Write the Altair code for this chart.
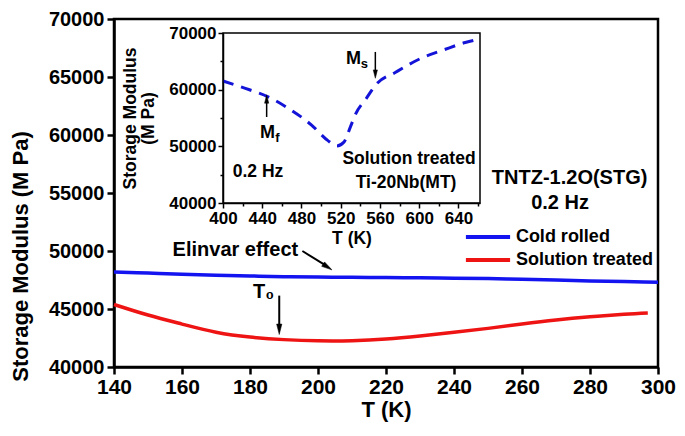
import altair as alt
import pandas as pd

FONT = "Liberation Sans"

# ---- main panel data ----
cold_T = [140, 150, 160, 170, 180, 190, 200, 210, 220, 230, 240, 250, 260, 270, 280, 290, 300]
cold_rolled = [48200, 48100, 48000, 47920, 47850, 47790, 47750, 47730, 47710, 47690, 47660,
               47620, 47560, 47500, 47420, 47360, 47300]
sol_T = [140, 150, 160, 170, 180, 190, 200, 210, 220, 230, 240, 250, 260, 270, 280, 290, 297]
sol_treated = [45390, 44480, 43700, 43000, 42580, 42360, 42260, 42270, 42410, 42680, 43000,
               43330, 43700, 44050, 44330, 44550, 44660]
series_names = ["Cold rolled", "Solution treated"]
series_colors = ["#1414f0", "#ee1414"]

# ---- inset data (Ti-20Nb, solution treated) ----
inset_T = [400, 427, 446, 465, 490, 507, 516, 523, 530, 535, 546, 556, 576, 602, 626, 647, 662]
inset_E = [61525, 59980, 58740, 56885, 53790, 51010, 50080, 50700, 53480, 55650, 58430,
           60910, 63070, 65545, 67090, 68330, 68950]

main_df = pd.DataFrame({
    "T": cold_T + sol_T,
    "E": cold_rolled + sol_treated,
    "series": [series_names[0]] * len(cold_T) + [series_names[1]] * len(sol_T),
})
inset_df = pd.DataFrame({"T": inset_T, "E": inset_E})

ARROW = "M0,-1L0.5,1L-0.5,1Z"   # narrow arrow head pointing up

# ---- main scales / axes ----
xs = alt.Scale(domain=[140, 300], nice=False, zero=False)
ys = alt.Scale(domain=[40000, 70000], nice=False, zero=False)

x_axis = alt.Axis(
    title="T (K)", values=list(range(140, 301, 10)), format="d",
    labelExpr="datum.value % 20 === 0 ? datum.label : ''",
    tickSize={"condition": {"test": "datum.value % 20 === 0", "value": 7}, "value": 4},
    labelFlush=False, labelOverlap=False, labelFont=FONT, labelFontSize=21,
    labelFontWeight="bold", labelColor="black", labelPadding=2,
    titleFont=FONT, titleFontSize=22, titleFontWeight="bold", titleColor="black",
    titlePadding=2, domainColor="black", domainWidth=2.5, tickColor="black",
    tickWidth=2.5, grid=False, orient="bottom",
)
y_axis = alt.Axis(
    title="Storage Modulus (M Pa)", values=list(range(40000, 70001, 2500)), format="d",
    labelExpr="datum.value % 5000 === 0 ? datum.label : ''",
    tickSize={"condition": {"test": "datum.value % 5000 === 0", "value": 7}, "value": 4},
    labelFlush=False, labelOverlap=False, labelFont=FONT, labelFontSize=20,
    labelFontWeight="bold", labelColor="black", labelPadding=3,
    titleFont=FONT, titleFontSize=22, titleFontWeight="bold", titleColor="black",
    titleX=-94, titleY=237, titleAlign="center", titleBaseline="middle", titleAngle=-90,
    domainColor="black", domainWidth=2.5, tickColor="black", tickWidth=2.5,
    grid=False, orient="left",
)

lines = alt.Chart(main_df).mark_line(strokeWidth=3.5, interpolate="natural").encode(
    x=alt.X("T:Q", scale=xs, axis=x_axis),
    y=alt.Y("E:Q", scale=ys, axis=y_axis),
    color=alt.Color("series:N", scale=alt.Scale(domain=series_names, range=series_colors),
                    legend=None),
)


def txt(s, t, e, size=18, align="center", dy=0):
    return alt.Chart().mark_text(
        text=s, font=FONT, fontSize=size, fontWeight="bold", color="black",
        align=align, baseline="middle", dy=dy,
    ).encode(x=alt.datum(t), y=alt.datum(e))


def rule(t1, t2, e1, e2, w=2, color="black"):
    return alt.Chart().mark_rule(color=color, strokeWidth=w).encode(
        x=alt.datum(t1), x2=alt.datum(t2), y=alt.datum(e1), y2=alt.datum(e2))


def head(t, e, angle, size=110):
    return alt.Chart().mark_point(
        shape=ARROW, filled=True, fill="black", stroke="black", strokeWidth=0.5,
        size=size, angle=angle, opacity=1, fillOpacity=1,
    ).encode(x=alt.datum(t), y=alt.datum(e))


main_layer = alt.layer(
    lines,
    txt("TNTZ-1.2O(STG)", 274.0, 56325, size=20),
    txt("0.2 Hz", 271.2, 54103, size=20),
    # legend
    rule(243.5, 256.5, 51197, 51197, w=4, color=series_colors[0]),
    rule(243.5, 256.5, 49231, 49231, w=4, color=series_colors[1]),
    txt(series_names[0], 258.2, 51197, size=18, align="left"),
    txt(series_names[1], 258.2, 49231, size=18, align="left"),
    # annotations
    txt("Elinvar effect", 175.7, 50085, size=20),
    rule(195.4, 202.0, 50000, 48800),
    head(202.8, 48620, 123),
    txt("T₀", 184.0, 46500, size=20),
    rule(188.6, 188.6, 46154, 43500),
    head(188.6, 43250, 180),
)

# ---- inset ----
ixs = alt.Scale(domain=[400, 662], range=[109, 366], nice=False, zero=False)
iys = alt.Scale(domain=[40000, 70000], range=[184, 14], nice=False, zero=False)

ix_axis = alt.Axis(
    title="T (K)", orient="bottom", offset=-164, values=list(range(400, 661, 20)), format="d",
    labelExpr="(datum.value - 400) % 40 === 0 ? datum.label : ''",
    tickSize={"condition": {"test": "(datum.value - 400) % 40 === 0", "value": 5}, "value": 3},
    labelFlush=False, labelOverlap=False, labelFont=FONT, labelFontSize=17,
    labelFontWeight="bold", labelColor="black", labelPadding=2,
    titleFont=FONT, titleFontSize=17.5, titleFontWeight="bold", titleColor="black",
    titlePadding=3, domainColor="black", domainWidth=1.5, tickColor="black",
    tickWidth=1.5, grid=False,
)
iy_axis = alt.Axis(
    title=["Storage Modulus", "(M Pa)"], orient="left", offset=-109,
    values=list(range(40000, 70001, 5000)), format="d",
    labelExpr="datum.value % 10000 === 0 ? datum.label : ''",
    tickSize={"condition": {"test": "datum.value % 10000 === 0", "value": 5}, "value": 3},
    labelFlush=False, labelOverlap=False, labelFont=FONT, labelFontSize=17,
    labelFontWeight="bold", labelColor="black", labelPadding=2,
    titleFont=FONT, titleFontSize=17.5, titleFontWeight="bold", titleColor="black",
    titlePadding=11, titleLineHeight=18, domainColor="black", domainWidth=1.5,
    tickColor="black", tickWidth=1.5, grid=False,
)

inset_line = alt.Chart(inset_df).mark_line(
    strokeWidth=3, strokeDash=[11, 8], color="#1414d8", interpolate="monotone",
).encode(
    x=alt.X("T:Q", scale=ixs, axis=ix_axis),
    y=alt.Y("E:Q", scale=iys, axis=iy_axis),
)

inset_frame = alt.Chart().mark_rect(
    fillOpacity=0, stroke="black", strokeWidth=1.5,
).encode(x=alt.datum(400), x2=alt.datum(662), y=alt.datum(40000), y2=alt.datum(70000))

inset_layer = alt.layer(
    inset_line,
    inset_frame,
    txt("M", 445.4, 52440, size=18),
    txt("f", 455.5, 51500, size=13),
    rule(444.5, 444.5, 55180, 57800, w=1.5),
    head(444.5, 58350, 0, size=70),
    txt("M", 533.0, 65410, size=18),
    txt("s", 544.0, 64500, size=13),
    rule(555.3, 555.3, 66660, 63300, w=1.5),
    head(555.3, 62750, 180, size=70),
    txt("0.2 Hz", 435.7, 45470, size=17.5),
    txt("Solution treated", 589.6, 47760, size=17.5),
    txt("Ti-20Nb(MT)", 586.6, 43530, size=17.5),
)

chart = alt.layer(main_layer, inset_layer).resolve_scale(
    x="independent", y="independent", color="independent"
).properties(
    width=544, height=348,
    autosize=alt.AutoSizeParams(type="none"),
    padding={"left": 106, "top": 11, "right": 19, "bottom": 61},
    background="white",
).configure_view(stroke="black", strokeWidth=2.5)

chart.save("out.html", embed_options={"renderer": "svg", "actions": False})
